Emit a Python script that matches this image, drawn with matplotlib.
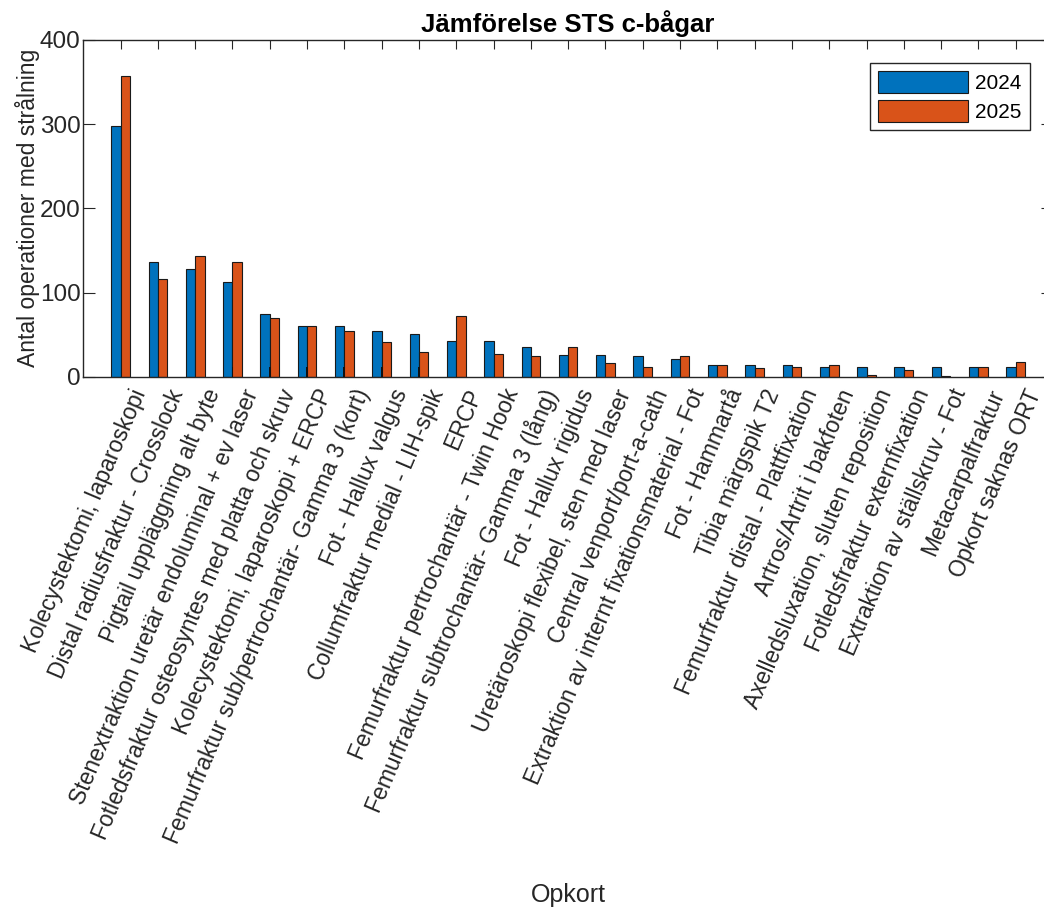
import matplotlib

matplotlib.use('Agg')
import matplotlib.pyplot as plt
from matplotlib.transforms import ScaledTranslation
import numpy as np

plt.rcParams['font.family'] = ['Liberation Sans', 'DejaVu Sans']

# data
opkort = [
    'Kolecystektomi, laparoskopi',
    'Distal radiusfraktur - Crosslock',
    'Pigtail uppläggning alt byte',
    'Stenextraktion uretär endoluminal + ev laser',
    'Fotledsfraktur osteosyntes med platta och skruv',
    'Kolecystektomi, laparoskopi + ERCP',
    'Femurfraktur sub/pertrochantär- Gamma 3 (kort)',
    'Fot - Hallux valgus',
    'Collumfraktur medial - LIH-spik',
    'ERCP',
    'Femurfraktur pertrochantär - Twin Hook',
    'Femurfraktur subtrochantär- Gamma 3 (lång)',
    'Fot - Hallux rigidus',
    'Uretäroskopi flexibel, sten med laser',
    'Central venport/port-a-cath',
    'Extraktion av internt fixationsmaterial - Fot',
    'Fot - Hammartå',
    'Tibia märgspik T2',
    'Femurfraktur distal - Plattfixation',
    'Artros/Artrit i bakfoten',
    'Axelledsluxation, sluten reposition',
    'Fotledsfraktur externfixation',
    'Extraktion av ställskruv - Fot',
    'Metacarpalfraktur',
    'Opkort saknas ORT',
]
antal_2024 = [298, 136, 128, 113, 74, 60, 60, 54, 51, 43, 43, 35, 26,
              26, 24, 21, 14, 14, 14, 11, 11, 11, 11, 11, 11]
antal_2025 = [357, 116, 143, 136, 70, 60, 54, 41, 29, 72, 27, 24, 35,
              16, 12, 24, 14, 10, 12, 14, 2, 8, 1, 11, 17]
# smal svart stapel mellan paren (syns i originalet)
mitt = [0, 0, 0, 11, 11, 11, 11, 11, 11, 0, 0, 0, 0,
        0, 0, 0, 0, 0, 0, 0, 0, 0, 0, 0, 0]
years = ['2024', '2025']

W, H = 1044, 910
fig = plt.figure(figsize=(W / 100, H / 100), dpi=100)
ax = fig.add_axes([83.3 / W, 1 - 376.7 / H, (1053 - 83.3) / W,
                   (376.7 - 40) / H])

x = np.arange(1, len(opkort) + 1)
bw = 0.25
ax.bar(x - bw / 2, antal_2024, bw, color='#0072BD', edgecolor='#1a1a1a',
       linewidth=0.8, label=years[0], zorder=2)
ax.bar(x + bw / 2, antal_2025, bw, color='#D95319', edgecolor='#1a1a1a',
       linewidth=0.8, label=years[1], zorder=2)
ax.bar(x, mitt, 0.05, color='#111111', linewidth=0, zorder=3)

ax.set_xlim(0, len(opkort) + 1)
ax.set_ylim(0, 400)
ax.set_yticks([0, 100, 200, 300, 400])
ax.set_xticks(x)
ax.set_xticklabels([])

# roterade etiketter, lite förskjutna som i MATLAB
lbl_tr = ax.get_xaxis_transform() + ScaledTranslation(
    9 / 100, -9 / 100, fig.dpi_scale_trans)
for xi, txt in zip(x, opkort):
  ax.text(xi, 0, txt, transform=lbl_tr, rotation=67, ha='right', va='top',
          rotation_mode='anchor', fontsize=16.5, color='#262626')

ax.tick_params(axis='both', direction='in', top=True, right=True,
               colors='#262626', width=0.8)
ax.tick_params(axis='x', length=6.5)
ax.tick_params(axis='y', length=8.5, pad=2, labelsize=17.5)
for s in ax.spines.values():
  s.set_color('#262626')
  s.set_linewidth(1.0)

ax.set_ylabel('Antal operationer med strålning', fontsize=16.5,
              color='#262626', labelpad=0)
ax.set_xlabel('Opkort', fontsize=18, color='#262626')
ax.xaxis.set_label_coords(0.5, -1.505)
ax.set_title('Jämförelse STS c-bågar', fontsize=18.5, fontweight='bold',
             pad=6)

leg = ax.legend(loc='upper right', bbox_to_anchor=(1030 / W, 1 - 63 / H),
                bbox_transform=fig.transFigure, borderaxespad=0,
                fontsize=15, handlelength=4.3, handleheight=1.2,
                handletextpad=0.35, labelspacing=0.35, borderpad=0.4,
                fancybox=False, framealpha=1)
leg.get_frame().set_edgecolor('#262626')
leg.get_frame().set_linewidth(1.0)

fig.savefig('out.png', dpi=100)
